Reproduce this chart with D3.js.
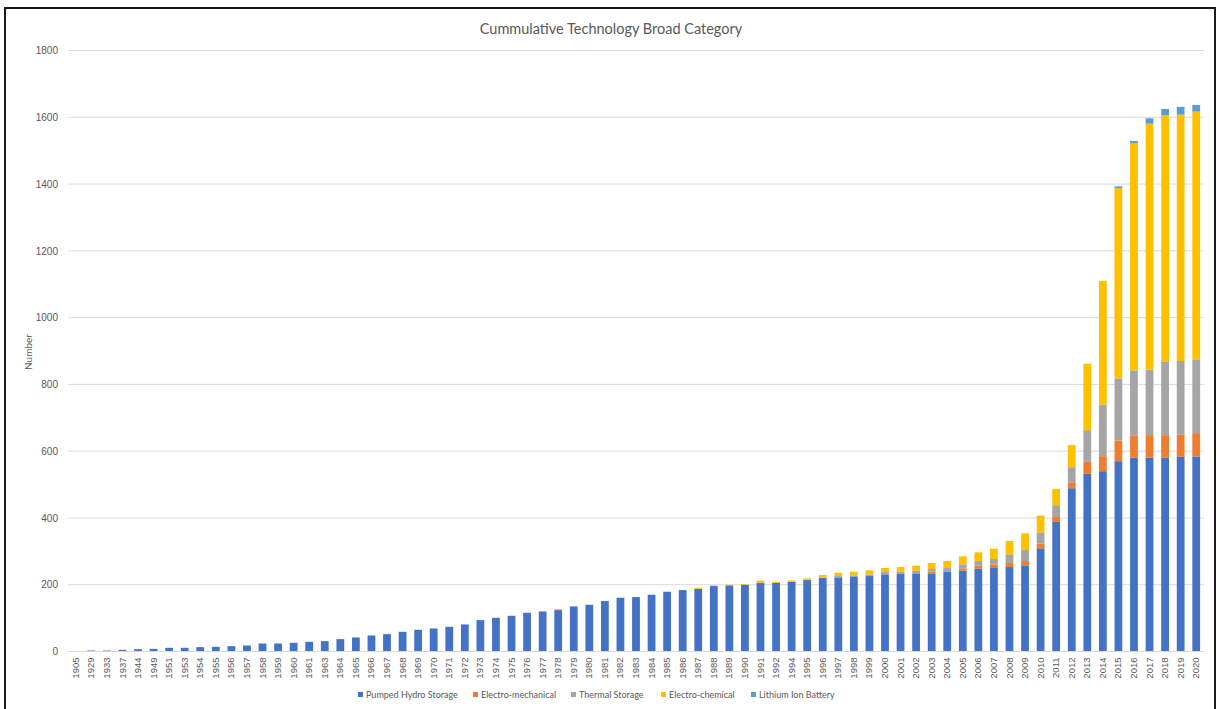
<!DOCTYPE html>
<html>
<head>
<meta charset="utf-8">
<script src="https://cdn.jsdelivr.net/npm/d3@7"></script>
<style>
  body { margin: 0; background: #fff; }
  svg { display: block; font-family: Lato, "Open Sans", sans-serif; }
</style>
</head>
<body>
<svg id="chart" width="1219" height="709"></svg>
<script>
const years = [1905,1929,1933,1937,1944,1949,1951,1953,1954,1955,1956,1957,1958,1959,1960,1961,
  1963,1964,1965,1966,1967,1968,1969,1970,1971,1972,1973,1974,1975,1976,1977,1978,1979,1980,
  1981,1982,1983,1984,1985,1986,1987,1988,1989,1990,1991,1992,1994,1995,1996,1997,1998,1999,
  2000,2001,2002,2003,2004,2005,2006,2007,2008,2009,2010,2011,2012,2013,2014,2015,2016,2017,
  2018,2019,2020];

const pumpedHydro = [1,3,3,5,7,8,11,11,13,14,16,18,24,24,26,29,
  31,37,42,48,52,59,65,69,74,81,94,101,107,116,120,124,135,140,
  151,161,163,170,179,184,188,196,198,200,205,206,209,214,220,222,225,226,
  231,232,234,234,239,242,248,250,253,258,309,388,489,532,540,570,580,581,
  581,583,584];

const electroMechanical = [0,0,0,0,0,0,0,0,0,0,0,0,0,0,0,0,
  0,0,0,0,0,0,0,0,0,0,0,0,0,0,0,2,0,0,
  0,0,0,0,0,0,0,0,0,0,2,0,0,0,0,0,0,0,
  0,0,0,5,2,7,9,11,12,13,14,15,18,36,45,62,66,67,
  67,66,70];

const thermalStorage = [0,0,0,0,0,0,0,0,0,0,0,0,0,0,0,0,
  0,0,0,0,0,0,0,0,0,0,0,0,0,0,0,0,0,0,
  0,0,0,0,0,0,0,1,0,0,0,0,0,1,2,4,3,5,
  7,7,8,8,9,12,14,16,26,33,34,35,45,95,154,186,196,196,
  221,221,221];

const electroChemical = [0,0,0,0,0,0,0,0,0,0,0,0,0,0,0,0,
  0,0,0,0,0,0,0,0,0,0,0,0,0,0,0,0,0,0,
  0,0,0,0,0,0,3,1,2,2,5,3,4,4,7,10,11,12,
  12,14,15,18,21,24,26,31,40,50,50,49,66,199,371,570,681,737,
  737,738,742];

const lithiumIon = [0,0,0,0,0,0,0,0,0,0,0,0,0,0,0,0,
  0,0,0,0,0,0,0,0,0,0,0,0,0,0,0,0,0,0,
  0,0,0,0,0,0,0,0,0,0,0,0,0,0,0,0,0,0,
  0,0,0,0,0,0,0,0,0,0,0,0,0,0,0,5,6,16,
  19,23,20];

const seriesNames = ['Pumped Hydro Storage', 'Electro-mechanical', 'Thermal Storage', 'Electro-chemical', 'Lithium Ion Battery'];
const seriesColors = ['#4472c4', '#ed7d31', '#a5a5a5', '#ffc000', '#5b9bd5'];
const yTicks = [0, 200, 400, 600, 800, 1000, 1200, 1400, 1600, 1800];

const seriesValues = [pumpedHydro, electroMechanical, thermalStorage, electroChemical, lithiumIon];
const rows = years.map((yr, i) => {
  const row = { year: String(yr) };
  seriesNames.forEach((name, s) => { row[name] = seriesValues[s][i]; });
  return row;
});

const svg = d3.select('#chart');
const textColor = '#595959';

// outer frame
svg.append('rect')
  .attr('x', 5).attr('y', 8)
  .attr('width', 1210).attr('height', 710)
  .attr('fill', 'none')
  .attr('stroke', '#1a1a1a')
  .attr('stroke-width', 2);

const x = d3.scaleBand()
  .domain(rows.map((d) => d.year))
  .range([68, 1204])
  .paddingInner(0.5)
  .paddingOuter(0.25);

const y = d3.scaleLinear()
  .domain([0, 1800])
  .range([651.5, 50.5]);

// gridlines
svg.append('g')
  .selectAll('line')
  .data(yTicks)
  .enter()
  .append('line')
  .attr('x1', 68).attr('x2', 1204)
  .attr('y1', (d) => y(d)).attr('y2', (d) => y(d))
  .attr('stroke', '#d9d9d9')
  .attr('stroke-width', 1);

const yAxis = svg.append('g')
  .attr('transform', 'translate(60,0)')
  .call(d3.axisLeft(y).tickValues(yTicks).tickFormat(d3.format('d')).tickSize(0).tickPadding(2));
yAxis.select('.domain').remove();
yAxis.selectAll('text')
  .attr('fill', textColor)
  .style('font-size', '10px');

const stack = d3.stack().keys(seriesNames);
const layers = stack(rows);

svg.append('g')
  .selectAll('g.layer')
  .data(layers)
  .enter()
  .append('g')
  .attr('class', 'layer')
  .attr('fill', (_, i) => seriesColors[i])
  .selectAll('rect')
  .data((d) => d)
  .enter()
  .append('rect')
  .attr('x', (d) => x(d.data.year))
  .attr('width', x.bandwidth())
  .attr('y', (d) => y(d[1]))
  .attr('height', (d) => Math.max(0, y(d[0]) - y(d[1])));

// x axis line
svg.append('line')
  .attr('x1', 68).attr('x2', 1204)
  .attr('y1', y(0)).attr('y2', y(0))
  .attr('stroke', '#d9d9d9');

const xAxis = svg.append('g')
  .attr('transform', `translate(0,${y(0)})`)
  .call(d3.axisBottom(x).tickSize(0).tickPadding(0));
xAxis.select('.domain').remove();
xAxis.selectAll('text')
  .attr('fill', textColor)
  .style('font-size', '9.5px')
  .attr('text-anchor', 'end')
  .attr('dy', '0.32em')
  .attr('transform', 'translate(0,6) rotate(-90)')
  .attr('x', 0)
  .attr('y', 0);

// title
svg.append('text')
  .attr('x', 611).attr('y', 34)
  .attr('text-anchor', 'middle')
  .attr('fill', textColor)
  .style('font-size', '14.5px')
  .text('Cummulative Technology Broad Category');

// y axis title
svg.append('text')
  .attr('transform', 'translate(32,352) rotate(-90)')
  .attr('text-anchor', 'middle')
  .attr('fill', textColor)
  .style('font-size', '10px')
  .text('Number');

// legend
const legendStarts = [358, 473, 571, 661, 751];
const legend = svg.append('g')
  .selectAll('g')
  .data(seriesNames)
  .enter()
  .append('g')
  .attr('transform', (_, i) => `translate(${legendStarts[i]},695)`);
legend.append('rect')
  .attr('x', 0).attr('y', -3)
  .attr('width', 5).attr('height', 5)
  .attr('fill', (_, i) => seriesColors[i]);
legend.append('text')
  .attr('x', 8).attr('y', 0)
  .attr('dy', '0.35em')
  .attr('fill', textColor)
  .style('font-size', '9px')
  .text((d) => d);
</script>
</body>
</html>
